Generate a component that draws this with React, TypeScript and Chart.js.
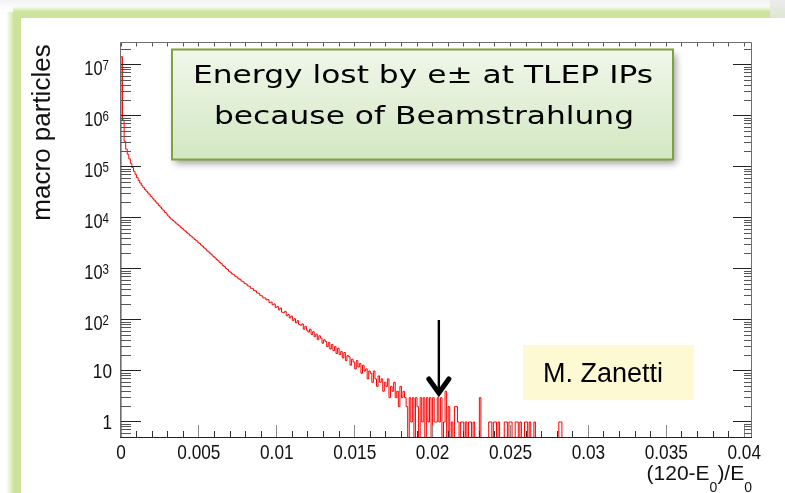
import React, { useEffect, useRef } from "react";
import { Chart, registerables } from "chart.js";

Chart.register(...registerables);

// Histogram of relative energy loss, bin width 1e-4
const BIN_WIDTH = 0.0001;

// bins 0 - 59
const coreCounts = [
  14500000, 830000, 318000, 223900, 177800, 144500, 117500, 97700, 82200, 70800,
  61700, 54300, 48400, 43700, 39800, 36300, 33500, 30900, 28500, 26300,
  24300, 22400, 20600, 19100, 17600, 16300, 15000, 13900, 12800, 11900,
  10900, 10120, 9450, 8960, 8380, 7930, 7400, 7020, 6550, 6210,
  5790, 5510, 5120, 4880, 4550, 4270, 4060, 3780, 3590, 3350,
  3170, 2950, 2790, 2580, 2450, 2260, 2150, 1990, 1880, 1740,
];

// bins 60 - 139
const slopeCounts = [
  1650, 1530, 1450, 1340, 1270, 1170, 1115, 1025, 980, 900,
  860, 800, 772, 718, 695, 645, 626, 580, 562, 520,
  508, 468, 457, 421, 412, 379, 371, 340, 333, 305,
  296, 271, 270, 248, 251, 219, 224, 198, 207, 176,
  183, 158, 171, 142, 139, 147, 121, 128, 110, 119,
  98, 106, 88, 97, 82, 79, 84, 66, 75, 63,
  58, 66, 52, 59, 47, 53, 41, 49, 44, 35,
  41, 38, 30, 36, 27, 33, 25, 30, 22, 28,
];

// bins 140 - 282
const tailCounts = [
  21, 24, 18, 23, 16, 20, 19, 13, 17, 15,
  11, 16, 12, 14, 9, 13, 10, 11, 7, 10,
  9, 6, 10, 7, 5, 8, 6, 7, 4, 6,
  5, 7, 3, 5, 4, 6, 3, 4, 2, 5,
  3, 4, 3, 2, 0, 3, 1, 3, 0, 3,
  2, 0, 3, 1, 3, 0, 3, 1, 3, 0,
  3, 1, 1, 3, 1, 3, 0, 1, 4, 0,
  2, 0, 1, 0, 2, 2, 1, 0, 1, 1,
  0, 1, 0, 1, 1, 0, 1, 0, 0, 0,
  3, 0, 0, 0, 0, 0, 1, 1, 0, 1,
  1, 0, 1, 0, 0, 0, 1, 1, 0, 1,
  1, 0, 0, 1, 1, 0, 1, 0, 0, 1,
  1, 0, 1, 0, 0, 1, 0, 0, 0, 0,
  0, 0, 0, 0, 0, 0, 0, 0, 0, 0,
  0, 1, 1,
];

const xTickValues = [0, 0.005, 0.01, 0.015, 0.02, 0.025, 0.03, 0.035, 0.04];
const xTickLabels = ["0", "0.005", "0.01", "0.015", "0.02", "0.025", "0.03", "0.035", "0.04"];
const yDecadeExponents = [0, 1, 2, 3, 4, 5, 6, 7];

const X_MIN = 0;
const X_MAX = 0.0405;
const Y_MIN = 0.508;
const Y_MAX = 2.82e7;

const titleLines = ["Energy lost by e\u00b1 at TLEP IPs", "because of Beamstrahlung"];
const creditLabel = "M. Zanetti";
const yAxisTitle = "macro particles";

// marker arrow pointing at the end of the populated tail
const arrowX = 0.0204;
const arrowFrom = 100;
const arrowTo = 3.1;

const SANS = '"Liberation Sans", Arial, Helvetica, sans-serif';
const NARROW = 0.82;
const GREEN = "rgb(203,227,155)";

function squeezeText(ctx: CanvasRenderingContext2D, text: string, x: number, y: number, align: CanvasTextAlign, sx: number) {
  ctx.save();
  ctx.translate(x, y);
  ctx.scale(sx, 1);
  ctx.textAlign = align;
  ctx.fillText(text, 0, 0);
  ctx.restore();
}

function drawSlide(ctx: CanvasRenderingContext2D, w: number, h: number) {
  ctx.save();
  ctx.fillStyle = "#ffffff";
  ctx.fillRect(0, 0, w, h);

  // soft light-grey surround
  const sg = ctx.createLinearGradient(0, 0, 0, 10);
  sg.addColorStop(0, "#f3f3f3");
  sg.addColorStop(1, "#ffffff");
  ctx.fillStyle = sg;
  ctx.fillRect(0, 0, w, 10);

  // green frame band along the top
  const tg = ctx.createLinearGradient(0, 6, 0, 18);
  tg.addColorStop(0, "rgba(203,227,155,0)");
  tg.addColorStop(0.5, GREEN);
  tg.addColorStop(1, GREEN);
  ctx.fillStyle = tg;
  ctx.fillRect(13, 6, 757, 12);

  // green frame band along the left side
  const lg = ctx.createLinearGradient(6, 0, 21, 0);
  lg.addColorStop(0, "rgba(203,227,155,0)");
  lg.addColorStop(0.55, GREEN);
  lg.addColorStop(1, GREEN);
  ctx.fillStyle = lg;
  ctx.fillRect(6, 12, 15, h - 12);

  // neighbouring panel corner at the top right
  const rg = ctx.createLinearGradient(0, 0, 0, 18);
  rg.addColorStop(0, "#ececec");
  rg.addColorStop(1, "#dfe6d2");
  ctx.fillStyle = rg;
  ctx.fillRect(770, 0, w - 770, 18);

  ctx.fillStyle = "#ffffff";
  ctx.fillRect(21, 18, w - 21, h - 18);
  ctx.restore();
}

const slidePlugin = {
  id: "slideBackground",
  beforeDraw(chart: any) {
    drawSlide(chart.ctx, chart.width, chart.height);
  },
};

const framePlugin = {
  id: "rootFrame",
  afterDraw(chart: any) {
    const ctx: CanvasRenderingContext2D = chart.ctx;
    const a = chart.chartArea;
    const xs = chart.scales.x;
    const ys = chart.scales.y;
    ctx.save();
    ctx.lineWidth = 1;

    // x ticks, bottom and top
    for (let i = 0; i <= 40; i++) {
      const px = Math.floor(xs.getPixelForValue(i * 0.001)) + 0.5;
      const major = i % 5 === 0;
      ctx.strokeStyle = major ? "#8c8c8c" : "#333333";
      ctx.beginPath();
      ctx.moveTo(px, a.bottom);
      ctx.lineTo(px, a.bottom - (major ? 12 : 6));
      ctx.stroke();
      ctx.strokeStyle = "#555555";
      ctx.beginPath();
      ctx.moveTo(px, a.top);
      ctx.lineTo(px, a.top + 4.5);
      ctx.stroke();
    }

    // y ticks, left and right
    for (let d = -1; d <= 7; d++) {
      for (let m = 1; m <= 9; m++) {
        const v = m * Math.pow(10, d);
        if (v < Y_MIN || v > Y_MAX) continue;
        const py = Math.floor(ys.getPixelForValue(v)) + 0.5;
        const major = m === 1;
        ctx.strokeStyle = major ? "#222222" : "#555555";
        ctx.beginPath();
        ctx.moveTo(a.left, py);
        ctx.lineTo(a.left + (major ? 20 : 10), py);
        ctx.moveTo(a.right, py);
        ctx.lineTo(a.right - (major ? 19 : 8), py);
        ctx.stroke();
      }
    }

    // frame
    ctx.strokeStyle = "#6e6e6e";
    ctx.beginPath();
    ctx.moveTo(a.left - 0.5, a.bottom);
    ctx.lineTo(a.left - 0.5, a.top + 0.5);
    ctx.lineTo(a.right - 0.5, a.top + 0.5);
    ctx.lineTo(a.right - 0.5, a.bottom);
    ctx.stroke();
    ctx.strokeStyle = "#222222";
    ctx.beginPath();
    ctx.moveTo(a.left - 1, a.bottom + 0.5);
    ctx.lineTo(a.right, a.bottom + 0.5);
    ctx.stroke();

    // tick labels
    ctx.fillStyle = "#111111";
    ctx.textBaseline = "alphabetic";
    ctx.font = `21px ${SANS}`;
    xTickValues.forEach((v, i) => {
      squeezeText(ctx, xTickLabels[i], xs.getPixelForValue(v), 459, "center", NARROW);
    });

    yDecadeExponents.forEach((e) => {
      const py = ys.getPixelForValue(Math.pow(10, e));
      if (e === 0) {
        ctx.font = `21px ${SANS}`;
        squeezeText(ctx, "1", 112, py + 7.5, "right", NARROW);
      } else if (e === 1) {
        ctx.font = `21px ${SANS}`;
        squeezeText(ctx, "10", 112, py + 7.5, "right", NARROW);
      } else {
        ctx.font = `20px ${SANS}`;
        squeezeText(ctx, "10", 102.5, py + 10, "right", NARROW);
        ctx.font = `14px ${SANS}`;
        squeezeText(ctx, String(e), 102.5, py + 5, "left", NARROW);
      }
    });

    // axis titles
    const parts: [string, boolean][] = [["(120-E", false], ["0", true], [")/E", false], ["0", true]];
    const widths = parts.map(([t, sub]) => {
      ctx.font = `${sub ? 14 : 21}px ${SANS}`;
      return ctx.measureText(t).width;
    });
    let cx = 752 - widths.reduce((s, w) => s + w, 0);
    parts.forEach(([t, sub], i) => {
      ctx.font = `${sub ? 14 : 21}px ${SANS}`;
      ctx.textAlign = "left";
      ctx.fillText(t, cx, sub ? 492 : 480);
      cx += widths[i];
    });

    ctx.save();
    ctx.translate(50, 132.5);
    ctx.rotate(-Math.PI / 2);
    ctx.font = `26px ${SANS}`;
    ctx.textAlign = "center";
    ctx.textBaseline = "alphabetic";
    ctx.fillText(yAxisTitle, 0, 0);
    ctx.restore();

    // arrow marker
    const ax = xs.getPixelForValue(arrowX);
    const ay0 = ys.getPixelForValue(arrowFrom);
    const ay1 = ys.getPixelForValue(arrowTo);
    ctx.strokeStyle = "#000000";
    ctx.lineWidth = 2.4;
    ctx.beginPath();
    ctx.moveTo(ax, ay0);
    ctx.lineTo(ax, ay1 - 4);
    ctx.stroke();
    ctx.lineWidth = 5;
    ctx.lineJoin = "miter";
    ctx.lineCap = "round";
    ctx.beginPath();
    ctx.moveTo(ax - 10, ay1 - 18);
    ctx.lineTo(ax, ay1 - 4);
    ctx.lineTo(ax + 10, ay1 - 18);
    ctx.stroke();

    // title box
    const bx = 172, by = 49.5, bw = 501, bh = 110;
    ctx.save();
    ctx.shadowColor = "rgba(0,0,0,0.38)";
    ctx.shadowBlur = 7;
    ctx.shadowOffsetX = 3;
    ctx.shadowOffsetY = 4;
    ctx.fillStyle = "#dfeed3";
    ctx.fillRect(bx, by, bw, bh);
    ctx.restore();
    const bg = ctx.createLinearGradient(0, by, 0, by + bh);
    bg.addColorStop(0, "#f0f7ea");
    bg.addColorStop(1, "#d3e7c2");
    ctx.fillStyle = bg;
    ctx.fillRect(bx, by, bw, bh);
    ctx.strokeStyle = "#7ea23f";
    ctx.lineWidth = 2;
    ctx.strokeRect(bx, by, bw, bh);

    ctx.fillStyle = "#000000";
    ctx.font = `24px "DejaVu Sans", ${SANS}`;
    ctx.textBaseline = "alphabetic";
    const w1 = ctx.measureText(titleLines[0]).width;
    const sx = 460 / w1;
    squeezeText(ctx, titleLines[0], 423, 83, "center", sx);
    squeezeText(ctx, titleLines[1], 424, 123.5, "center", sx);

    // credit box
    ctx.fillStyle = "#fcf9d3";
    ctx.fillRect(523, 345, 171, 55);
    ctx.fillStyle = "#000000";
    ctx.font = `27px ${SANS}`;
    ctx.textAlign = "left";
    ctx.fillText(creditLabel, 543, 382);

    ctx.restore();
  },
};

export default function App() {
  const canvasRef = useRef<HTMLCanvasElement | null>(null);

  useEffect(() => {
    const canvas = canvasRef.current;
    if (!canvas) return;
    const counts = [...coreCounts, ...slopeCounts, ...tailCounts];
    const FLOOR = 0.1; // empty bins are drawn down to the frame bottom
    const points: { x: number; y: number }[] = [{ x: 0, y: FLOOR }];
    counts.forEach((c, i) => points.push({ x: i * BIN_WIDTH, y: c > 0 ? c : FLOOR }));
    points.push({ x: counts.length * BIN_WIDTH, y: FLOOR });

    const chart = new Chart(canvas, {
      type: "line",
      data: {
        datasets: [
          {
            data: points,
            borderColor: "#ff0000",
            borderWidth: 1,
            pointRadius: 0,
            stepped: true,
            fill: false,
            tension: 0,
          } as any,
        ],
      },
      options: {
        animation: false,
        responsive: false,
        maintainAspectRatio: false,
        devicePixelRatio: 1,
        layout: { padding: { left: 121, right: 33, top: 42, bottom: 56 } },
        plugins: {
          legend: { display: false },
          tooltip: { enabled: false },
          title: { display: false },
        },
        scales: {
          x: { type: "linear", min: X_MIN, max: X_MAX, display: false },
          y: { type: "logarithmic", min: Y_MIN, max: Y_MAX, display: false },
        },
      },
      plugins: [slidePlugin, framePlugin],
    });
    return () => chart.destroy();
  }, []);

  return (
    <div style={{ position: "fixed", left: 0, top: 0, width: 785, height: 493 }}>
      <canvas ref={canvasRef} width={785} height={493} style={{ display: "block" }} />
    </div>
  );
}
